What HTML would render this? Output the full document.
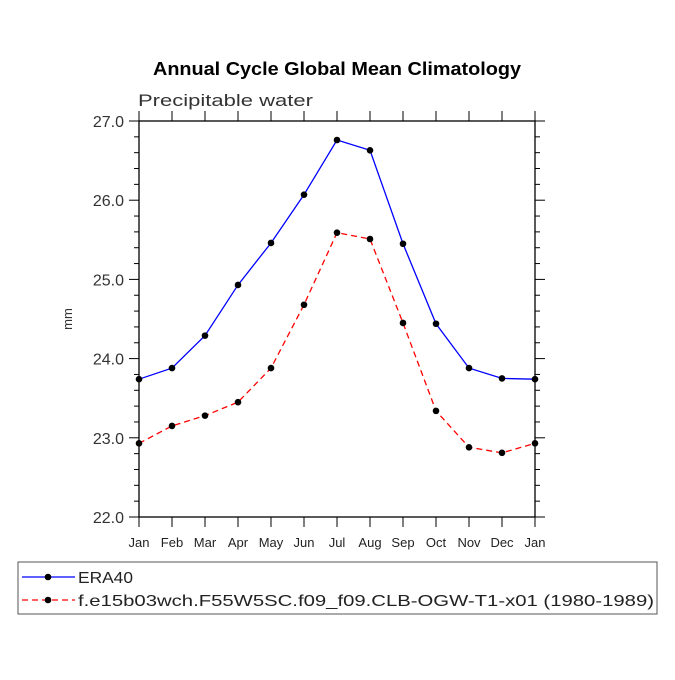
<!DOCTYPE html>
<html><head><meta charset="utf-8"><style>
body{margin:0;background:#fff}
svg text{font-family:"Liberation Sans",sans-serif}
</style></head><body>
<svg width="675" height="675" viewBox="0 0 675 675">
<text x="153" y="75" font-size="18" font-weight="bold" textLength="368" lengthAdjust="spacingAndGlyphs">Annual Cycle Global Mean Climatology</text>
<text x="138" y="106" font-size="17" fill="#333" textLength="175" lengthAdjust="spacingAndGlyphs">Precipitable water</text>
<text x="72" y="319" font-size="13" fill="#333" text-anchor="middle" transform="rotate(-90 72 319)">mm</text>
<g id="axes"></g>
<g id="series"></g>
<rect x="18" y="562" width="639" height="52" fill="none" stroke="#555"/>
<g>
<line x1="22" y1="577" x2="75" y2="577" stroke="#0000ff" stroke-width="1.3"/>
<circle cx="48" cy="577" r="3.3"/>
<text x="78" y="583" font-size="16" fill="#222" textLength="55" lengthAdjust="spacingAndGlyphs">ERA40</text></g>
<g>
<line x1="22" y1="600" x2="75" y2="600" stroke="#ff0000" stroke-width="1.3" stroke-dasharray="6,4"/>
<circle cx="48" cy="600" r="3.3"/>
<text x="78" y="606" font-size="16" fill="#222" textLength="576" lengthAdjust="spacingAndGlyphs">f.e15b03wch.F55W5SC.f09_f09.CLB-OGW-T1-x01 (1980-1989)</text></g>
</svg>
<script>
const months=["Jan","Feb","Mar","Apr","May","Jun","Jul","Aug","Sep","Oct","Nov","Dec","Jan"];
const era40=[23.74,23.88,24.29,24.93,25.46,26.07,26.76,26.63,25.45,24.44,23.88,23.75,23.74];
const model=[22.93,23.15,23.28,23.45,23.88,24.68,25.59,25.51,24.45,23.34,22.88,22.81,22.93];
const yTicks=[22.0,23.0,24.0,25.0,26.0,27.0];
const X0=139,X1=535,Y0=517,Y1=121,VMIN=22,VMAX=27;
const xs=i=>X0+(X1-X0)*i/(months.length-1);
const ys=v=>Y0-(Y0-Y1)*(v-VMIN)/(VMAX-VMIN);
const NS="http://www.w3.org/2000/svg";
function mk(t,a,p){const e=document.createElementNS(NS,t);for(const k in a)e.setAttribute(k,a[k]);p.appendChild(e);return e;}
const ax=document.getElementById('axes');
const fr=mk('rect',{x:X0,y:Y1,width:X1-X0,height:Y0-Y1,fill:'none',stroke:'#000','stroke-width':1.3},ax);


for(let v=VMIN;v<=VMAX+1e-6;v+=0.2){
  const y=ys(v);const major=Math.abs(v-Math.round(v))<1e-6;const L=major?10:5;
  mk('line',{x1:X0-L,y1:y,x2:X0,y2:y,stroke:'#000'},ax);
  mk('line',{x1:X1,y1:y,x2:X1+L,y2:y,stroke:'#000'},ax);
}
yTicks.forEach(v=>{
  const t=mk('text',{x:X0-15,y:ys(v)+6,'text-anchor':'end','font-size':16,fill:'#333'},ax);
  t.textContent=v.toFixed(1);
  
  
});
months.forEach((m,i)=>{
  const x=xs(i);
  mk('line',{x1:x,y1:Y0,x2:x,y2:Y0+10,stroke:'#000'},ax);
  mk('line',{x1:x,y1:Y1-10,x2:x,y2:Y1,stroke:'#000'},ax);
  const t=mk('text',{x:x,y:Y0+30,'text-anchor':'middle','font-size':13,fill:'#222'},ax);
  t.textContent=m;
  
  
});
const sg=document.getElementById('series');
function draw(vals,color,dash,name){
  const g=mk('g',{},sg);
  
  
  const a={points:vals.map((v,i)=>xs(i)+','+ys(v)).join(' '),fill:'none',stroke:color,'stroke-width':1.3};
  if(dash)a['stroke-dasharray']=dash;
  mk('polyline',a,g);
  vals.forEach((v,i)=>{
    const c=mk('circle',{cx:xs(i),cy:ys(v),r:3.3,fill:'#000'},g);
    
    
  });
}
draw(era40,'#0000ff',null,'series-era40');
draw(model,'#ff0000','6,4','series-model');
</script>
</body></html>
